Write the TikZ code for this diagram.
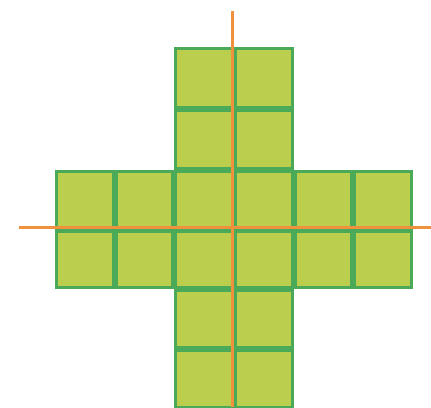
\documentclass[tikz,border=0pt]{standalone}
\usepackage{tikz}
\usetikzlibrary{positioning}
\definecolor{tilefill}{RGB}{187,206,78}
\definecolor{tileedge}{RGB}{74,170,88}
\definecolor{axisorange}{RGB}{240,145,62}
\begin{document}
\begin{tikzpicture}[x=1pt, y=-1pt,
    tile/.style = {draw=tileedge, fill=tilefill, line width=3pt},
    axisline/.style = {draw=axisorange, line width=3pt}
]
\useasboundingbox (0,0) rectangle (431,407);

% vertical arm
\foreach \ya/\yb in {47/109, 109/170, 289/349, 349/409}
  \foreach \xa/\xb in {174/234, 234/294}
    \draw[tile] (\xa+1.5,\ya+1.5) rectangle (\xb-1.5,\yb-1.5);

% horizontal arm
\foreach \ya/\yb in {170/229.5, 229.5/289}
  \foreach \xa/\xb in {55/115, 115/174, 174/234, 234/294, 294/353, 353/412.5}
    \draw[tile] (\xa+1.5,\ya+1.5) rectangle (\xb-1.5,\yb-1.5);

% axes
\coordinate (vtop) at (232.5,11);
\coordinate (vbot) at (232.5,407);
\coordinate (hleft) at (19,227.5);
\coordinate (hright) at (431,227.5);
\draw[axisline] (vtop) -- (vbot);
\draw[axisline] (hleft) -- (hright);

\end{tikzpicture}
\end{document}
